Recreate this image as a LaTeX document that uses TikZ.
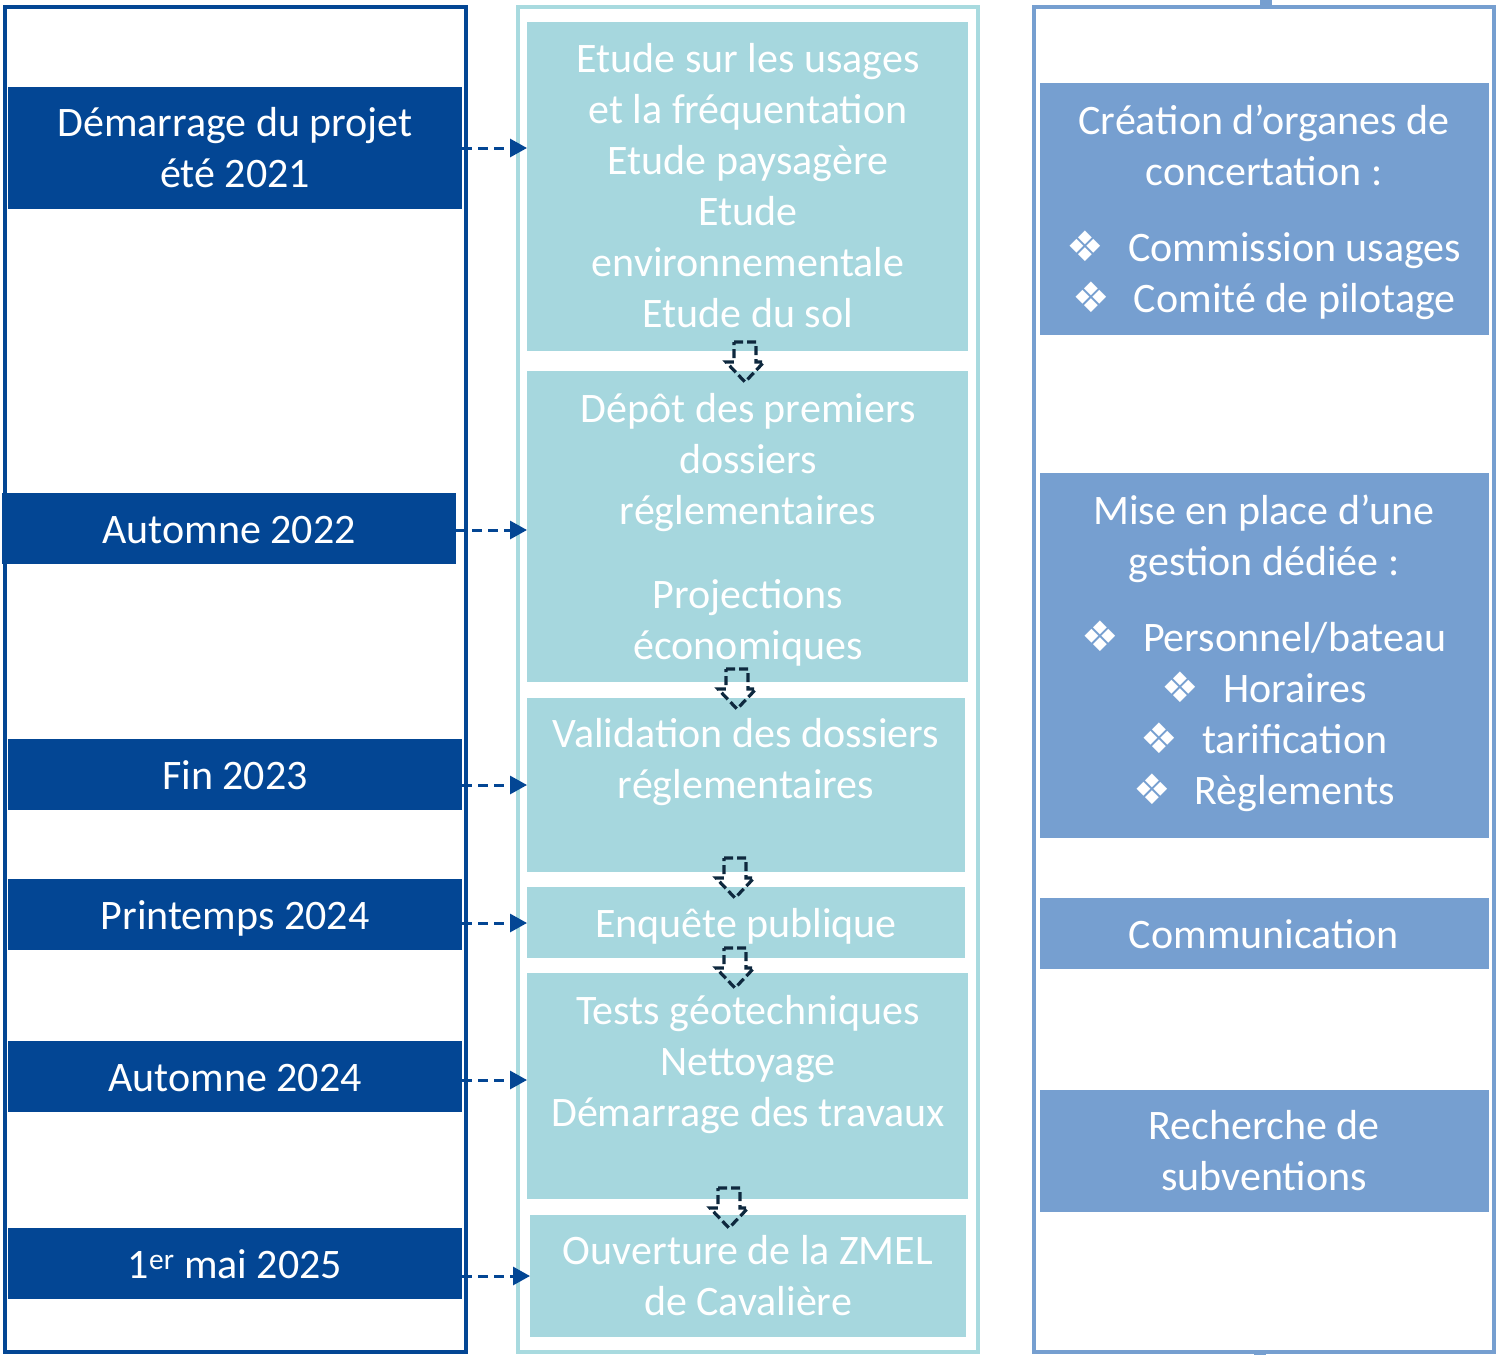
\documentclass[tikz,border=0pt]{standalone}
\usepackage{fontspec}
\setmainfont{Carlito}
\newfontfamily\symfont{DejaVu Sans}
\usetikzlibrary{arrows.meta,calc}
\definecolor{dblue}{RGB}{3,70,148}
\definecolor{midfill}{RGB}{166,215,222}
\definecolor{midframe}{RGB}{168,218,223}
\definecolor{rightfill}{RGB}{118,159,208}
\definecolor{navy}{RGB}{14,40,62}
\newcommand\dnarrow[1]{\draw[darr] (#1) ++(-11,0) -- ++(22,0) -- ++(0,20) -- ++(8,0) -- ++(-19,20) -- ++(-19,-20) -- ++(8,0) -- cycle;}
\begin{document}
\begin{tikzpicture}[x=1pt,y=-1pt,
  box/.style={draw=none,inner sep=0pt,outer sep=0pt,anchor=north west},
  lbox/.style={box,fill=dblue},
  mbox/.style={box,fill=midfill},
  rbox/.style={box,fill=rightfill},
  txt/.style={text=white,align=center,inner sep=0pt,font=\fontsize{42}{51}\selectfont},
  frame/.style={line width=4pt},
  harr/.style={draw=dblue,line width=3pt,dash pattern=on 10pt off 6pt,-{Triangle[length=17pt,width=18pt,fill=dblue]}},
  darr/.style={draw=navy,line width=3.2pt,dash pattern=on 9pt off 4pt,line join=miter}
]
\useasboundingbox (0,0) rectangle (1499,1355);
\fill[white] (0,0) rectangle (1499,1355);
% frames
\draw[frame,draw=dblue] (5,7) rectangle (466,1352);
\draw[frame,draw=midframe] (518,7) rectangle (978,1352);
\draw[frame,draw=rightfill] (1034,7) rectangle (1494,1352);
\fill[rightfill] (1260,0) rectangle (1272,7);
\fill[rightfill] (1254,1350) rectangle (1266,1355);
% left boxes
\node[lbox,minimum width=454pt,minimum height=122pt] (L1) at (8,87) {};
\node[lbox,minimum width=454pt,minimum height=71pt] (L2) at (2,493) {};
\node[lbox,minimum width=454pt,minimum height=71pt] (L3) at (8,739) {};
\node[lbox,minimum width=454pt,minimum height=71pt] (L4) at (8,879) {};
\node[lbox,minimum width=454pt,minimum height=71pt] (L5) at (8,1041) {};
\node[lbox,minimum width=454pt,minimum height=71pt] (L6) at (8,1228) {};
\node[txt] (L1t) at (235,152) {\strut Démarrage du projet\\\strut été 2021};
\node[txt] (L2t) at (229,533) {\strut Automne 2022};
\node[txt] (L3t) at (235,779) {\strut Fin 2023};
\node[txt] (L4t) at (235,919) {\strut Printemps 2024};
\node[txt] (L5t) at (235,1081) {\strut Automne 2024};
\node[txt] (L6t) at (235,1268) {\strut 1\textsuperscript{er} mai 2025};
% middle boxes
\node[mbox,minimum width=441pt,minimum height=329pt] (M1) at (527,22) {};
\node[mbox,minimum width=441pt,minimum height=311pt] (M2) at (527,371) {};
\node[mbox,minimum width=438pt,minimum height=174pt] (M3) at (527,698) {};
\node[mbox,minimum width=438pt,minimum height=71pt] (M4) at (527,887) {};
\node[mbox,minimum width=441pt,minimum height=226pt] (M5) at (527,973) {};
\node[mbox,minimum width=436pt,minimum height=122pt] (M6) at (530,1215) {};
\node[txt] (M1t) at (748,190) {\strut Etude sur les usages\\\strut et la fréquentation\\\strut Etude paysagère\\\strut Etude\\\strut environnementale\\\strut Etude du sol};
\node[txt] (M2t) at (748,531) {\strut Dépôt des premiers\\\strut dossiers\\\strut réglementaires\\[33pt]\strut Projections\\\strut économiques};
\node[txt] (M3t) at (746,763) {\strut Validation des dossiers\\\strut réglementaires};
\node[txt] (M4t) at (746,927) {\strut Enquête publique};
\node[txt] (M5t) at (748,1065) {\strut Tests géotechniques\\\strut Nettoyage\\\strut Démarrage des travaux};
\node[txt] (M6t) at (748,1280) {\strut Ouverture de la ZMEL\\\strut de Cavalière};
% right boxes
\node[rbox,minimum width=449pt,minimum height=252pt] (R1) at (1040,83) {};
\node[rbox,minimum width=449pt,minimum height=365pt] (R2) at (1040,473) {};
\node[rbox,minimum width=449pt,minimum height=71pt] (R3) at (1040,898) {};
\node[rbox,minimum width=449pt,minimum height=122pt] (R4) at (1040,1090) {};
\node[txt] (R1t) at (1264,213) {\strut Création d’organes de\\\strut concertation :\\[25pt]\strut{\symfont ❖}\hspace{24pt}Commission usages\\\strut{\symfont ❖}\hspace{24pt}Comité de pilotage};
\node[txt] (R2t) at (1264,654) {\strut Mise en place d’une\\\strut gestion dédiée :\\[25pt]\strut{\symfont ❖}\hspace{24pt}Personnel/bateau\\\strut{\symfont ❖}\hspace{24pt}Horaires\\\strut{\symfont ❖}\hspace{24pt}tarification\\\strut{\symfont ❖}\hspace{24pt}Règlements};
\node[txt] (R3t) at (1264,938) {\strut Communication};
\node[txt] (R4t) at (1264,1155) {\strut Recherche de\\\strut subventions};
% horizontal dashed arrows
\draw[harr] (L1.east |- 0,148) -- (M1.west |- 0,148);
\draw[harr] (L2.east |- 0,530) -- (M2.west |- 0,530);
\draw[harr] (L3.east |- 0,785) -- (M3.west |- 0,785);
\draw[harr] (L4.east |- 0,923) -- (M4.west |- 0,923);
\draw[harr] (L5.east |- 0,1080) -- (M5.west |- 0,1080);
\draw[harr] (L6.east |- 0,1276) -- (M6.west |- 0,1276);
% down arrows
\coordinate (d1) at (745,342);
\coordinate (d2) at (737,669);
\coordinate (d3) at (735,858);
\coordinate (d4) at (735,948);
\coordinate (d5) at (729,1188);
\dnarrow{d1}
\dnarrow{d2}
\dnarrow{d3}
\dnarrow{d4}
\dnarrow{d5}
\end{tikzpicture}
\end{document}
